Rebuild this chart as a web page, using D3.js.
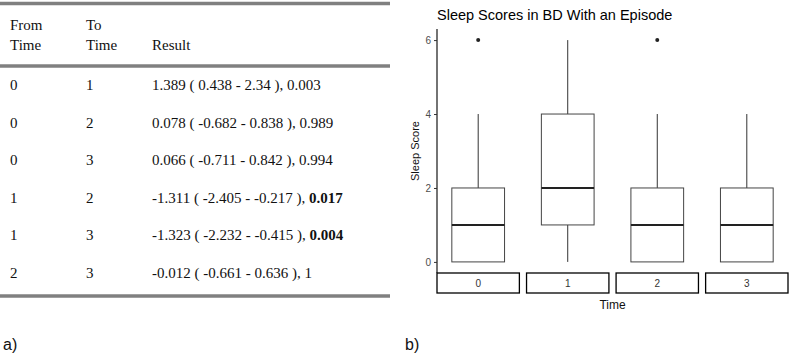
<!DOCTYPE html>
<html>
<head>
<meta charset="utf-8">
<script src="https://cdn.jsdelivr.net/npm/d3@7"></script>
<style>
  body { margin: 0; background: #fff; }
  svg { display: block; }
</style>
</head>
<body>
<div id="fig"></div>
<script>
// table a)
const fromTimes = ['0', '0', '0', '1', '1', '2'];
const toTimes = ['1', '2', '3', '2', '3', '3'];
const estimates = ['1.389', '0.078', '0.066', '-1.311', '-1.323', '-0.012'];
const ciLow = ['0.438', '-0.682', '-0.711', '-2.405', '-2.232', '-0.661'];
const ciHigh = ['2.34', '0.838', '0.842', '-0.217', '-0.415', '0.636'];
const pValues = ['0.003', '0.989', '0.994', '0.017', '0.004', '1'];
const significant = [false, false, false, true, true, false];

// boxplot b)
const times = ['0', '1', '2', '3'];
const q1 = [0, 1, 0, 0];
const medians = [1, 2, 1, 1];
const q3 = [2, 4, 2, 2];
const whiskerLow = [0, 0, 0, 0];
const whiskerHigh = [4, 6, 4, 4];
const outliers = [[6], [], [6], []];
const yTicks = [0, 2, 4, 6];

const svg = d3.select('#fig')
	.append('svg')
	.attr('width', 790)
	.attr('height', 353);

// ---------- table ----------
const serif = '"Liberation Serif", "Times New Roman", serif';
const table = svg.append('g').attr('font-family', serif).attr('font-size', 15).attr('fill', '#111');
const colX = [10, 86, 152];

[3.5, 66, 296].forEach((y) => {
	table.append('line')
		.attr('x1', 0).attr('x2', 390)
		.attr('y1', y).attr('y2', y)
		.attr('stroke', '#808080')
		.attr('stroke-width', 3.5);
});

table.append('text').attr('x', colX[0]).attr('y', 30).text('From');
table.append('text').attr('x', colX[0]).attr('y', 50).text('Time');
table.append('text').attr('x', colX[1]).attr('y', 30).text('To');
table.append('text').attr('x', colX[1]).attr('y', 50).text('Time');
table.append('text').attr('x', colX[2]).attr('y', 50).text('Result');

const rowY = d3.scaleLinear().domain([0, 5]).range([90, 278]);

fromTimes.forEach((f, i) => {
	const y = rowY(i);
	table.append('text').attr('x', colX[0]).attr('y', y).text(f);
	table.append('text').attr('x', colX[1]).attr('y', y).text(toTimes[i]);
	const t = table.append('text').attr('x', colX[2]).attr('y', y);
	t.append('tspan').text(`${estimates[i]} ( ${ciLow[i]} - ${ciHigh[i]} ), `);
	t.append('tspan')
		.attr('font-weight', significant[i] ? 'bold' : 'normal')
		.text(pValues[i]);
});

const sans = '"Liberation Sans", Arial, sans-serif';
svg.append('text').attr('x', 3).attr('y', 350)
	.attr('font-family', sans).attr('font-size', 16).attr('fill', '#111')
	.text('a)');
svg.append('text').attr('x', 405).attr('y', 350)
	.attr('font-family', sans).attr('font-size', 16).attr('fill', '#111')
	.text('b)');

// ---------- boxplot ----------
const chart = svg.append('g').attr('font-family', sans);
const panelTop = 29;
const panelBottom = 273;
const axisX = 437;

const y = d3.scaleLinear().domain([-0.3, 6.3]).range([panelBottom, panelTop]);
const facet = d3.scaleBand().domain(times).range([437, 788]).paddingInner(0.08);
const boxW = facet.bandwidth() * 0.64;

chart.append('text')
	.attr('x', 437).attr('y', 20)
	.attr('font-size', 14.5).attr('fill', '#000')
	.text('Sleep Scores in BD With an Episode');

// y axis
const yAxis = chart.append('g')
	.attr('transform', `translate(${axisX},0)`)
	.call(d3.axisLeft(y).tickValues(yTicks).tickFormat(d3.format('d')).tickSize(3).tickPadding(3));
yAxis.select('.domain').attr('d', `M0,${panelTop}V${panelBottom}`).attr('stroke', '#000').attr('stroke-width', 1.1);
yAxis.selectAll('.tick line').attr('stroke', '#333');
yAxis.selectAll('.tick text').attr('fill', '#4d4d4d').attr('font-size', 10).attr('font-family', sans);

chart.append('text')
	.attr('transform', `translate(419,${(panelTop + panelBottom) / 2}) rotate(-90)`)
	.attr('text-anchor', 'middle')
	.attr('font-size', 11)
	.attr('fill', '#111')
	.text('Sleep Score');

const facets = chart.selectAll('.facet')
	.data(times)
	.enter()
	.append('g')
	.attr('class', 'facet');

facets.each(function (t, i) {
	const g = d3.select(this);
	const cx = facet(t) + facet.bandwidth() / 2;

	// whiskers
	g.append('line')
		.attr('x1', cx).attr('x2', cx)
		.attr('y1', y(q3[i])).attr('y2', y(whiskerHigh[i]))
		.attr('stroke', '#333').attr('stroke-width', 1);
	g.append('line')
		.attr('x1', cx).attr('x2', cx)
		.attr('y1', y(q1[i])).attr('y2', y(whiskerLow[i]))
		.attr('stroke', '#333').attr('stroke-width', 1);

	// box
	g.append('rect')
		.attr('x', cx - boxW / 2)
		.attr('y', y(q3[i]))
		.attr('width', boxW)
		.attr('height', y(q1[i]) - y(q3[i]))
		.attr('fill', '#fff')
		.attr('stroke', '#444')
		.attr('stroke-width', 1);

	// median
	g.append('line')
		.attr('x1', cx - boxW / 2).attr('x2', cx + boxW / 2)
		.attr('y1', y(medians[i])).attr('y2', y(medians[i]))
		.attr('stroke', '#222').attr('stroke-width', 2);

	// outliers
	g.selectAll('circle')
		.data(outliers[i])
		.enter()
		.append('circle')
		.attr('cx', cx)
		.attr('cy', (d) => y(d))
		.attr('r', 2)
		.attr('fill', '#222');

	// strip at bottom
	g.append('rect')
		.attr('x', facet(t))
		.attr('y', panelBottom)
		.attr('width', facet.bandwidth())
		.attr('height', 20)
		.attr('fill', '#fff')
		.attr('stroke', '#000')
		.attr('stroke-width', 1.3);
	g.append('text')
		.attr('x', cx)
		.attr('y', panelBottom + 14)
		.attr('text-anchor', 'middle')
		.attr('font-size', 10)
		.attr('fill', '#333')
		.text(t);
});

chart.append('text')
	.attr('x', (437 + 788) / 2)
	.attr('y', 309)
	.attr('text-anchor', 'middle')
	.attr('font-size', 12)
	.attr('fill', '#111')
	.text('Time');
</script>
</body>
</html>
